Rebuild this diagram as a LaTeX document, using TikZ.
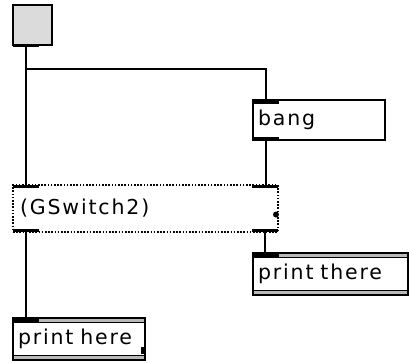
\documentclass[tikz,border=0pt]{standalone}
\usepackage{fontspec}
\setmainfont{DejaVu Sans}[LetterSpace=9]
\usetikzlibrary{positioning,calc}

\begin{document}
\begin{tikzpicture}[x=1pt,y=-1pt,
  obj/.style={draw,line width=1.2pt,anchor=north west,inner xsep=5pt,inner ysep=0pt,outer sep=0pt,
    text height=15pt,text depth=4pt,align=left,fill=white,font=\fontsize{20.5}{22}\selectfont},
  printobj/.style={obj,minimum height=42pt},
  port/.style={fill=black,inner sep=0pt,outer sep=0pt,minimum width=26pt,minimum height=3.5pt},
  wire/.style={line width=2pt}]
\useasboundingbox (0,0) rectangle (409,362);
% objects
\node[draw,line width=2pt,outer sep=0pt,fill=gray!28,anchor=north west,minimum width=39pt,minimum height=40pt] (toggle) at (13,5) {};
\node[obj,minimum height=40pt,text width=122pt] (bang) at (253,100) {bang};
\node[obj,dash pattern=on 1.6pt off 1.6pt,line width=1.6pt,minimum height=47pt,text width=251pt,inner xsep=7pt] (switch) at (13,185) {(GSwitch2)};
\node[printobj,text width=145pt] (there) at (253,253) {print there};
\node[printobj,text width=122pt] (here) at (13,318) {print here};
% double border of the print objects
\foreach \n in {there,here}{
  \fill[gray!55] (\n.north west) rectangle ($(\n.north east)+(0,4)$);
  \fill[gray!55] ($(\n.south west)+(0,-5)$) rectangle (\n.south east);
  \draw[line width=1pt] ($(\n.north west)+(0,4)$) -- ($(\n.north east)+(0,4)$);
  \draw[line width=1pt] ($(\n.south west)+(0,-5)$) -- ($(\n.south east)+(0,-5)$);
  \draw[line width=1.2pt] (\n.north west) rectangle (\n.south east);
}
% inlets and outlets
\node[port,anchor=south west] (tgout) at ($(toggle.south west)+(0,2)$) {};
\node[port,anchor=north west] (bangin) at (bang.north west) {};
\node[port,anchor=south west] (bangout) at (bang.south west) {};
\node[port,anchor=north west,minimum height=2.5pt] (swinl) at (switch.north west) {};
\node[port,anchor=north east,minimum height=2.5pt] (swinr) at (switch.north east) {};
\node[port,anchor=south west] (swoutl) at (switch.south west) {};
\node[port,anchor=south east] (swoutr) at (switch.south east) {};
\node[port,anchor=north west] (therein) at (there.north west) {};
\node[port,anchor=north west] (herein) at (here.north west) {};
\fill ($(switch.east)+(-2,6)$) circle (3pt);
\fill ($(here.south east)+(-4,-13)$) rectangle ($(here.south east)+(0,-6)$);
% connections
\coordinate (split) at ($(tgout.south)+(0,22)$);
\draw[wire] (tgout.south) -- (tgout.south |- swinl.north);
\draw[wire] (split) -| (bangin.north);
\draw[wire] (bangout.south) -- (bangout.south |- swinr.north);
\draw[wire] (swoutl.south) -- (swoutl.south |- herein.north);
\draw[wire] (swoutr.south) -- (swoutr.south |- therein.north);
\end{tikzpicture}
\end{document}
